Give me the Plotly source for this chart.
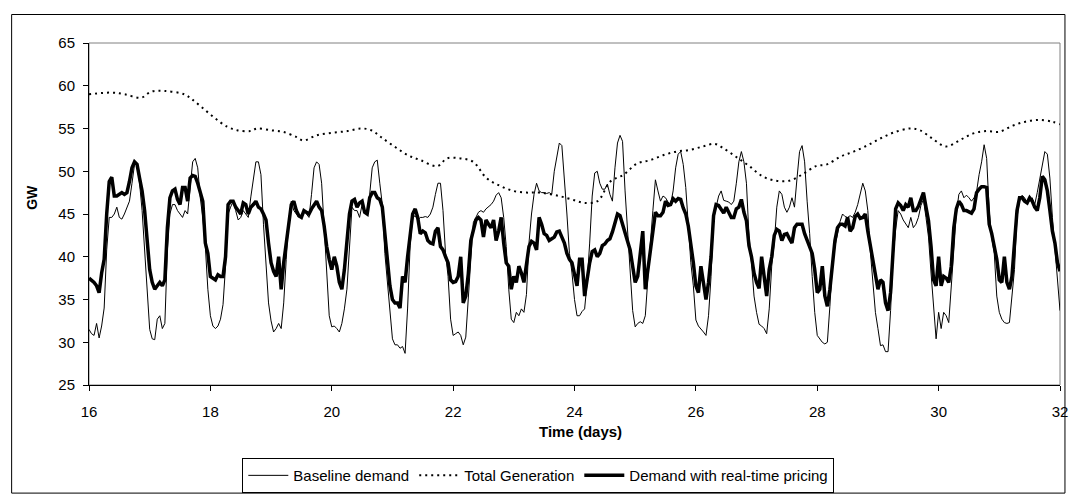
import plotly.graph_objects as go

# Hourly demand values from day 16 to day 32 (GW), one row per half day
baseline = [
    31.5, 31.0, 30.8, 32.2, 30.5, 31.9, 34.0, 40.8, 44.6, 44.6, 45.0, 45.8,
    44.6, 44.4, 45.0, 45.8, 46.5, 48.6, 50.8, 50.8, 48.6, 45.4, 40.8, 36.2,
    31.5, 30.4, 30.3, 32.7, 33.1, 31.6, 32.2, 40.8, 45.0, 46.1, 46.1, 45.4,
    45.0, 44.6, 45.4, 45.0, 48.1, 51.1, 51.5, 50.4, 46.9, 44.6, 41.2, 36.2,
    33.1, 31.9, 31.6, 31.9, 32.7, 34.4, 38.9, 45.0, 45.8, 46.5, 45.4, 44.3,
    44.6, 45.4, 45.0, 44.6, 47.0, 49.2, 51.1, 51.1, 49.6, 43.8, 39.7, 34.6,
    32.5, 31.2, 31.6, 32.2, 31.6, 34.6, 39.7, 44.3, 46.5, 45.4, 45.0, 44.6,
    44.6, 45.4, 45.0, 44.6, 47.3, 50.4, 51.1, 50.8, 48.6, 43.2, 38.9, 33.1,
    31.8, 31.9, 31.6, 31.2, 32.2, 33.9, 36.2, 41.2, 45.8, 45.4, 45.4, 44.6,
    46.1, 45.4, 45.4, 47.3, 50.4, 51.1, 51.3, 48.6, 46.1, 40.4, 37.0, 33.1,
    30.4, 29.7, 29.7, 29.3, 29.5, 28.7, 34.0, 41.3, 44.6, 44.8, 44.3, 44.6,
    44.6, 44.7, 44.6, 45.0, 45.8, 47.3, 48.6, 48.6, 45.4, 40.4, 37.7, 32.7,
    30.8, 31.0, 31.2, 30.8, 29.7, 30.6, 34.6, 39.7, 44.0, 44.6, 45.2, 45.4,
    45.2, 45.6, 45.8, 46.1, 46.5, 47.2, 47.5, 46.9, 44.6, 41.2, 36.2, 32.7,
    32.3, 33.5, 33.1, 33.9, 33.5, 35.6, 41.6, 45.0, 47.3, 48.6, 47.7, 47.5,
    47.5, 47.4, 47.5, 47.3, 50.0, 51.9, 53.3, 53.0, 49.2, 45.0, 40.4, 38.1,
    35.0, 33.1, 33.1, 33.6, 33.9, 37.0, 41.6, 47.1, 49.8, 50.0, 48.6, 47.9,
    47.9, 48.5, 47.3, 46.5, 50.4, 53.3, 54.2, 53.5, 47.7, 42.7, 37.7, 33.7,
    31.8, 32.2, 32.4, 32.2, 33.1, 37.7, 41.6, 45.4, 49.0, 47.7, 46.5, 47.1,
    46.9, 46.4, 46.1, 47.7, 50.4, 52.0, 52.3, 50.8, 48.1, 43.8, 39.3, 36.6,
    32.6, 31.9, 31.6, 31.2, 30.8, 33.1, 37.7, 44.4, 45.8, 47.1, 47.7, 46.6,
    46.5, 46.4, 46.1, 46.5, 48.6, 51.1, 52.3, 51.1, 48.6, 42.5, 39.3, 35.4,
    33.5, 32.1, 31.9, 31.6, 31.0, 33.9, 38.9, 41.6, 45.8, 47.7, 47.3, 45.8,
    45.2, 45.8, 46.9, 45.8, 49.2, 52.3, 53.0, 51.1, 46.5, 42.7, 37.7, 33.5,
    30.8, 30.4, 30.0, 29.8, 30.0, 34.2, 38.9, 41.2, 42.7, 44.1, 45.0, 44.7,
    44.6, 44.8, 44.6, 45.2, 46.1, 47.3, 48.6, 47.7, 45.4, 40.6, 37.0, 33.5,
    31.6, 29.6, 29.7, 28.9, 28.9, 33.7, 40.0, 43.2, 45.4, 45.0, 44.3, 43.8,
    43.4, 44.6, 43.4, 43.8, 44.6, 46.0, 46.7, 44.6, 42.3, 38.1, 34.6, 30.4,
    33.5, 31.6, 33.5, 33.1, 32.3, 36.2, 41.2, 45.0, 47.3, 47.7, 46.9, 47.2,
    46.9, 46.5, 46.9, 47.6, 49.6, 51.1, 53.1, 51.5, 45.4, 42.2, 40.4, 35.4,
    33.5, 32.7, 32.3, 32.2, 32.3, 35.4, 38.5, 44.6, 46.5, 47.2, 46.9, 46.3,
    46.5, 46.9, 46.1, 47.5, 49.0, 50.9, 52.3, 52.0, 49.2, 44.6, 40.8, 38.1,
    33.7,
]

rtp = [
    37.5, 37.3, 37.0, 36.6, 35.8, 38.1, 39.7, 45.0, 48.8, 49.3, 47.1, 47.1,
    47.3, 47.5, 47.3, 47.5, 48.8, 50.4, 51.1, 50.8, 49.2, 47.7, 45.4, 41.9,
    38.5, 37.0, 36.2, 36.6, 37.0, 36.6, 37.3, 43.4, 46.9, 47.7, 47.9, 46.7,
    46.1, 48.1, 48.1, 46.5, 49.2, 49.5, 49.4, 48.6, 47.7, 46.5, 41.6, 40.4,
    37.7, 37.5, 37.3, 37.9, 37.7, 37.7, 40.0, 46.1, 46.5, 46.5, 45.8, 45.4,
    45.0, 46.3, 46.1, 45.0, 45.8, 46.1, 46.5, 45.8, 45.6, 45.0, 44.3, 41.6,
    39.3, 38.3, 37.7, 40.0, 36.2, 39.3, 41.6, 43.3, 46.1, 46.5, 45.4, 44.8,
    44.6, 45.4, 45.2, 45.0, 45.6, 46.0, 46.5, 45.8, 45.4, 43.6, 41.2, 39.7,
    38.5, 40.0, 38.9, 37.0, 36.2, 38.5, 41.6, 45.0, 46.5, 46.7, 45.8, 46.3,
    46.5, 45.2, 45.0, 46.9, 47.5, 47.5, 46.9, 46.7, 45.8, 43.0, 40.0, 36.6,
    35.0, 34.6, 34.6, 34.0, 37.7, 37.0, 40.0, 43.0, 45.0, 45.6, 44.6, 42.7,
    43.0, 42.8, 41.9, 41.6, 41.5, 43.0, 43.4, 41.2, 40.8, 40.0, 39.3, 37.3,
    37.0, 37.1, 37.7, 40.0, 34.6, 35.4, 38.0, 41.9, 43.0, 44.3, 44.6, 44.3,
    42.3, 44.3, 43.8, 43.4, 44.3, 41.9, 43.0, 44.6, 41.6, 39.3, 38.9, 36.2,
    37.7, 37.0, 38.9, 38.1, 37.0, 38.9, 41.2, 41.8, 41.6, 40.8, 44.6, 43.8,
    42.7, 42.5, 41.9, 42.1, 42.3, 42.9, 43.0, 42.3, 41.6, 40.4, 39.7, 39.3,
    38.1, 36.6, 39.7, 39.7, 35.4, 37.7, 39.3, 40.6, 40.8, 40.0, 40.4, 41.3,
    41.5, 41.9, 42.1, 42.9, 43.8, 45.0, 44.8, 43.8, 42.7, 41.9, 40.8, 38.9,
    37.0, 37.7, 40.0, 43.0, 36.2, 38.5, 40.0, 42.9, 45.2, 44.8, 44.8, 45.2,
    46.5, 46.0, 46.1, 46.8, 46.5, 46.8, 46.7, 45.7, 45.0, 43.6, 41.6, 39.3,
    36.6, 35.8, 38.9, 37.0, 35.0, 37.0, 40.0, 44.8, 46.1, 46.0, 45.6, 45.1,
    45.8, 45.2, 44.6, 44.6, 45.6, 45.8, 46.7, 45.2, 44.2, 41.3, 40.0, 38.1,
    37.0, 36.3, 40.0, 37.7, 35.4, 38.5, 40.0, 42.5, 43.2, 43.0, 41.9, 42.6,
    42.7, 42.1, 41.6, 43.4, 43.8, 43.8, 43.8, 42.7, 41.9, 41.0, 40.4, 38.5,
    35.8, 36.2, 38.9, 35.4, 34.2, 36.2, 39.5, 41.9, 43.4, 43.8, 43.8, 43.6,
    44.6, 43.0, 43.4, 44.7, 45.0, 44.5, 44.6, 45.0, 43.0, 41.2, 39.3, 37.9,
    36.2, 37.3, 37.0, 34.6, 33.7, 35.8, 41.2, 45.6, 46.3, 46.0, 45.4, 46.1,
    45.8, 46.9, 45.4, 45.4, 45.9, 46.7, 47.5, 45.8, 44.2, 41.2, 37.3, 36.6,
    40.0, 36.6, 37.7, 37.5, 37.0, 38.9, 43.4, 45.6, 46.5, 46.1, 45.4, 45.4,
    45.2, 45.1, 45.6, 47.5, 47.9, 48.2, 48.2, 48.1, 43.8, 42.7, 41.2, 39.7,
    37.3, 37.0, 40.0, 37.0, 36.2, 37.7, 41.6, 45.4, 46.9, 46.9, 46.5, 46.3,
    46.9, 46.5, 45.8, 45.4, 46.9, 49.4, 49.0, 47.7, 45.4, 43.0, 41.6, 39.3,
    38.3,
]

gen_days = [
    16.00, 16.37, 16.59, 16.86, 17.02, 17.24, 17.57, 17.68, 17.84, 18.06,
    18.28, 18.44, 18.66, 18.77, 18.99, 19.20, 19.42, 19.53, 19.75, 20.01,
    20.26, 20.48, 20.65, 20.81, 21.03, 21.25, 21.46, 21.74, 21.90, 22.12,
    22.33, 22.55, 22.77, 22.99, 23.21, 23.42, 23.75, 24.00, 24.16, 24.38,
    24.59, 24.81, 25.03, 25.25, 25.47, 25.68, 25.90, 26.12, 26.31, 26.45,
    26.66, 26.88, 27.10, 27.32, 27.54, 27.75, 27.98, 28.16, 28.38, 28.60,
    28.82, 29.03, 29.25, 29.52, 29.69, 29.90, 30.12, 30.34, 30.56, 30.78,
    30.99, 31.21, 31.43, 31.65, 31.87, 32.00,
]
gen_gw = [
    59.0, 59.2, 59.0, 58.6, 59.3, 59.4, 59.0, 58.5, 57.6, 56.3,
    55.2, 54.8, 54.7, 55.0, 54.8, 54.6, 54.0, 53.6, 54.2, 54.5,
    54.7, 55.0, 54.8, 54.0, 52.9, 51.9, 51.3, 50.6, 51.5, 51.5,
    51.1, 49.2, 48.3, 47.7, 47.5, 47.5, 47.1, 46.6, 46.3, 46.5,
    48.8, 49.6, 50.9, 51.3, 51.9, 52.3, 52.5, 52.9, 53.2, 52.7,
    51.7, 50.6, 49.4, 48.9, 48.9, 49.6, 50.6, 50.8, 51.7, 52.3,
    53.0, 53.8, 54.5, 55.0, 54.8, 53.8, 52.9, 53.6, 54.4, 54.7,
    54.6, 55.3, 55.8, 56.0, 55.8, 55.5,
]

x_ticks = [16, 18, 20, 22, 24, 26, 28, 30, 32]
y_ticks = [25, 30, 35, 40, 45, 50, 55, 60, 65]

baseline_days = [16 + h / 24 for h in range(len(baseline))]
rtp_days = [16 + h / 24 for h in range(len(rtp))]

FONT = "Arial, 'Liberation Sans', sans-serif"

fig = go.Figure()
fig.add_trace(go.Scatter(x=baseline_days, y=baseline, mode="lines", name="Baseline demand",
                         line=dict(color="black", width=1)))
fig.add_trace(go.Scatter(x=gen_days, y=gen_gw, mode="lines", name="Total Generation",
                         line=dict(color="black", width=2, dash="2px,4px", shape="spline")))
fig.add_trace(go.Scatter(x=rtp_days, y=rtp, mode="lines", name="Demand with real-time pricing",
                         line=dict(color="black", width=3.5)))

W, H = 1077, 502
L, R, T, B = 89, 1068, 43, 391
pw, ph = R - L, B - T

def px_x(p):
    return (p - L) / pw

def px_y(p):
    return (B - p) / ph

fig.update_layout(
    width=W, height=H,
    margin=dict(l=L, r=W - R, t=T, b=H - B, pad=0),
    paper_bgcolor="white", plot_bgcolor="white",
    font=dict(family=FONT, size=15, color="black"),
    showlegend=True,
    legend=dict(orientation="h", x=px_x(542), xanchor="center", y=px_y(501), yanchor="bottom",
                bordercolor="black", borderwidth=1, font=dict(size=15, family=FONT),
                tracegroupgap=0, itemwidth=40),
    xaxis=dict(range=[16, 32], tickvals=x_ticks, ticks="outside", ticklen=5, tickcolor="black",
               showline=True, linecolor="black", linewidth=1, showgrid=False, zeroline=False,
               tickfont=dict(size=15), ticklabelstandoff=8),
    yaxis=dict(range=[25, 65], tickvals=y_ticks, ticks="outside", ticklen=5, tickcolor="black",
               showline=True, linecolor="black", linewidth=1, showgrid=False, zeroline=False,
               tickfont=dict(size=15), ticklabelstandoff=5),
    shapes=[
        dict(type="rect", xref="paper", yref="paper", x0=0, y0=0, x1=1, y1=1,
             line=dict(color="#808080", width=1), layer="below"),
        dict(type="rect", xref="paper", yref="paper", x0=px_x(11), y0=px_y(501),
             x1=px_x(1073), y1=px_y(14), line=dict(color="black", width=1), layer="below"),
    ],
    annotations=[
        dict(text="<b>GW</b>", x=px_x(22), y=px_y(200), xref="paper", yref="paper",
             textangle=-90, showarrow=False, font=dict(size=14, family=FONT)),
        dict(text="<b>Time (days)</b>", x=px_x(585), y=px_y(449), xref="paper", yref="paper",
             showarrow=False, font=dict(size=15, family=FONT)),
    ],
)

fig.write_html("out.html", config={"displayModeBar": False},
               post_script="document.body.style.margin='0';")
